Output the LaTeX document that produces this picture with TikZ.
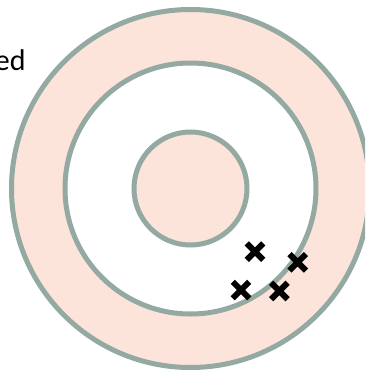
\documentclass[tikz,border=0pt]{standalone}
\usepackage{fontspec}
\setmainfont{Carlito}
\usetikzlibrary{shapes.misc}
\definecolor{ringc}{HTML}{93A9A2}
\definecolor{pinkc}{HTML}{FCE4DA}
\tikzset{
  ring/.style={draw=ringc, line width=5pt},
  hit/.style={cross out, draw=black, line width=6pt, minimum size=16.5pt, inner sep=0pt, outer sep=0pt}
}
\begin{document}
\begin{tikzpicture}[x=1pt,y=-1pt]
\useasboundingbox (0,0) rectangle (365,370);
\clip (0,0) rectangle (365,370);
\coordinate (c) at (190.5,188.5);
\fill[pinkc] (c) circle (179);
\draw[ring] (c) circle (179);
\fill[white] (c) circle (125.5);
\draw[ring] (c) circle (125.5);
\fill[pinkc] (c) circle (56.5);
\draw[ring] (c) circle (56.5);
\node[anchor=base east, inner sep=0pt, font=\fontsize{30}{36}\selectfont] (lbl) at (25.7,70.5) {ed};
\node[hit] (h1) at (255,251.7) {};
\node[hit] (h2) at (297.7,262.3) {};
\node[hit] (h3) at (241,290) {};
\node[hit] (h4) at (279.3,291) {};
\end{tikzpicture}
\end{document}
